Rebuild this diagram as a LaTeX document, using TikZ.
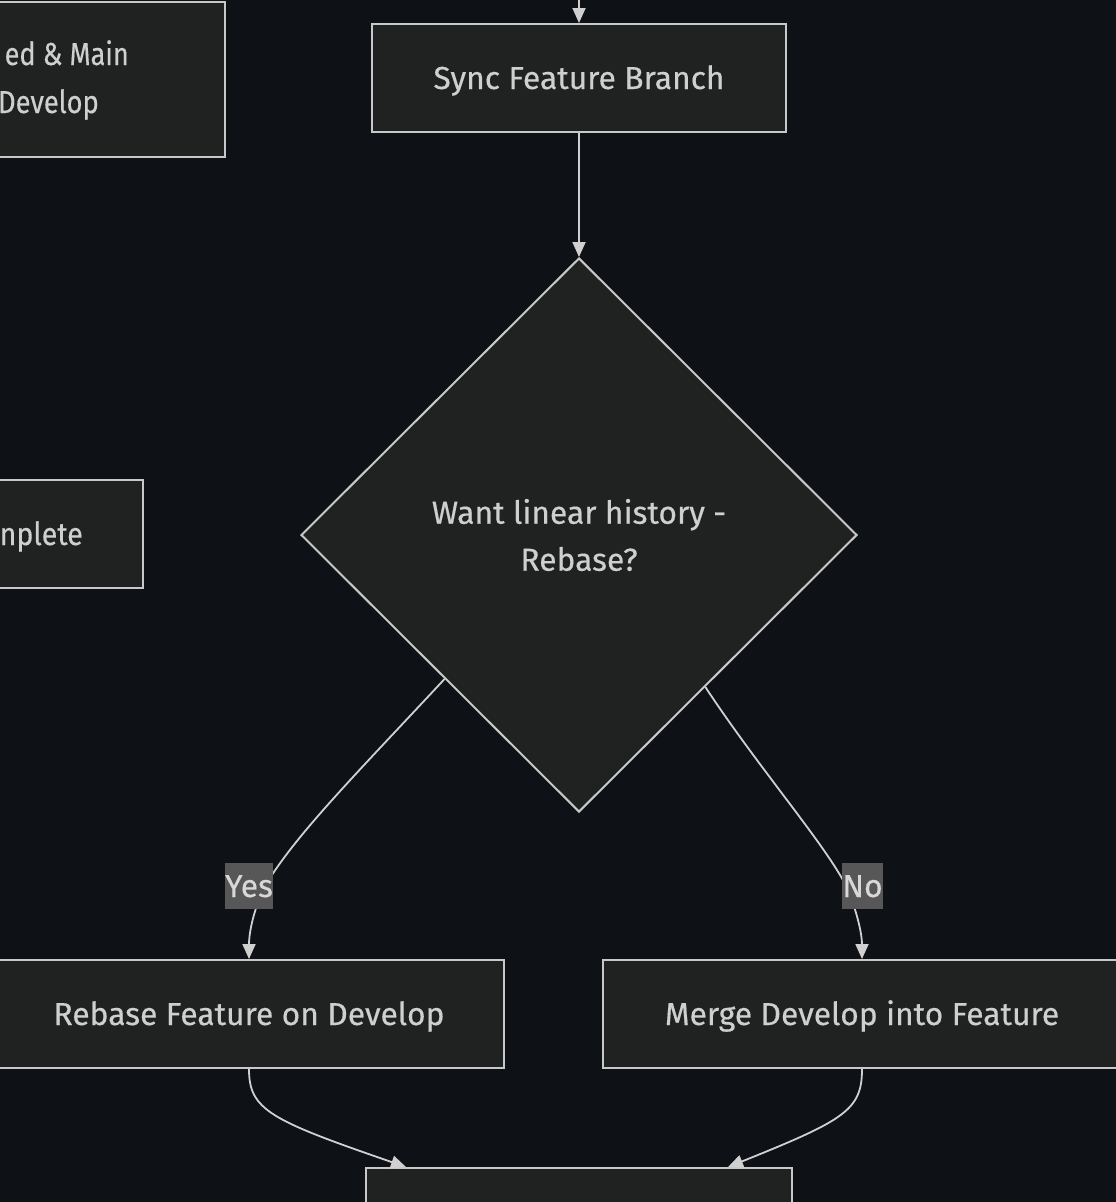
\documentclass[tikz,border=0pt]{standalone}
\usepackage{fontspec}
\setmainfont{Fira Sans}[FakeBold=0.4]
\usetikzlibrary{arrows.meta,shapes.geometric,calc}
\definecolor{bgc}{HTML}{0E1115}
\definecolor{nodef}{HTML}{202121}
\definecolor{bordc}{HTML}{C8C8C8}
\definecolor{edgec}{HTML}{D0D0D0}
\definecolor{txtc}{HTML}{CFCFCF}
\definecolor{lblf}{HTML}{575757}
\definecolor{lblt}{HTML}{D8D8D8}
\begin{document}
\begin{tikzpicture}[x=1pt,y=-1pt,
  box/.style={draw=bordc, line width=2pt, fill=nodef, text=txtc, font=\fontsize{31.8}{48}\selectfont,
    inner sep=0pt, minimum height=108pt, text height=22pt, text depth=0pt},
  txt/.style={text=txtc, font=\fontsize{31.8}{48}\selectfont, inner sep=0pt},
  dia/.style={diamond, draw=bordc, line width=2pt, fill=nodef, text=txtc, font=\fontsize{31.8}{47}\selectfont,
    inner sep=0pt, minimum width=556pt, minimum height=554pt, align=center},
  edge/.style={draw=edgec, line width=1.8pt, -{Triangle[length=15pt,width=13pt]}},
  lbl/.style={fill=lblf, text=lblt, font=\fontsize{31.8}{32}\selectfont, inner xsep=0pt, inner ysep=0pt,
    minimum height=46pt, text height=22pt, text depth=0pt}]
\fill[bgc] (0,0) rectangle (1116,1202);
\clip (0,0) rectangle (1116,1202);

% partially visible nodes on the left
\node[box, minimum width=400pt, minimum height=155pt, anchor=north east] (tl) at (226,1) {};
\node[txt, anchor=base east] (tla) at (129,65) {\scalebox{0.85}[1]{ed \& Main}};
\node[txt, anchor=base east] (tlb) at (99,113) {\scalebox{0.86}[1]{Develop}};
\node[box, minimum width=300pt, anchor=east] (cmp) at (144,534) {};
\node[txt, anchor=base east] (cmpt) at (83,545) {\scalebox{0.9}[1]{nplete}};

% main nodes
\node[box, minimum width=414pt] (sync) at (579,78) {Sync Feature Branch};
\node[dia] (dec) at (579,535) {Want linear history -\\Rebase?};
\node[box, minimum width=510pt] (reb) at (249,1014) {Rebase Feature on Develop};
\node[box, minimum width=518pt] (mer) at (862,1014) {Merge Develop into Feature};
\node[box, minimum width=426pt, anchor=north] (fin) at (579,1167) {};

% connectors
\coordinate (topin) at (579,-5);
\draw[edge] (topin) -- (sync.north);
\draw[edge] (sync.south) -- (dec.north);
\coordinate (ys) at ($(dec.west)!0.518!(dec.south)$);
\coordinate (ns) at ($(dec.east)!0.547!(dec.south)$);
\draw[edge] (ys) .. controls (360,770) and (290,840) .. (263,890)
  .. controls (252,915) and (249,935) .. (reb.north);
\draw[edge] (ns) .. controls (760,770) and (830,850) .. (848,890)
  .. controls (858,915) and (862,935) .. (mer.north);
\node[lbl] (yes) at (249,886) {Yes};
\node[lbl] (no) at (862.5,886) {No};
\coordinate (fa) at ($(fin.north west)+(41,0)$);
\coordinate (fb) at ($(fin.north east)+(-65,0)$);
\draw[edge] (reb.south) .. controls (249,1110) and (270,1120) .. (fa);
\draw[edge] (mer.south) .. controls (862,1110) and (845,1120) .. (fb);
\end{tikzpicture}
\end{document}
